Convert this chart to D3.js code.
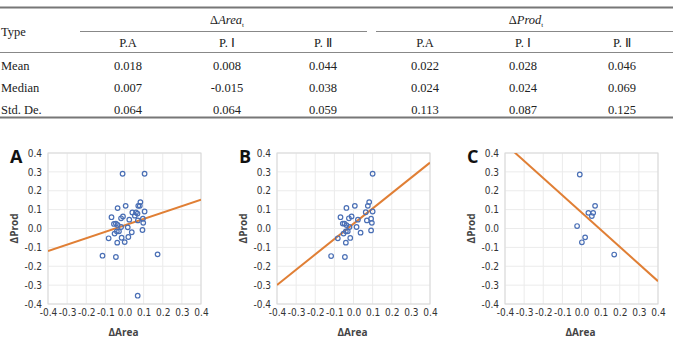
<!DOCTYPE html>
<html>
<head>
<meta charset="utf-8">
<script src="https://cdn.jsdelivr.net/npm/d3@7"></script>
<style>
  body { margin: 0; background: #fff; }
  svg { display: block; }
</style>
</head>
<body>
<script>
'use strict';

// table data
const rowLabels = ['Mean', 'Median', 'Std. De.'];
const subHeaders = ['P.A', 'P. Ⅰ', 'P. Ⅱ'];
const areaValues = [['0.018', '0.008', '0.044'], ['0.007', '-0.015', '0.038'], ['0.064', '0.064', '0.059']];
const prodValues = [['0.022', '0.028', '0.046'], ['0.024', '0.024', '0.069'], ['0.113', '0.087', '0.125']];

// scatter data: [dArea, dProd]
const pointsA = [[-0.01, 0.29], [0.105, 0.29], [0.083, 0.14], [0.072, 0.12], [0.08, 0.12], [0.006, 0.12],
  [-0.036, 0.108], [0.041, 0.085], [0.06, 0.085], [0.068, 0.079], [0.105, 0.09], [-0.068, 0.06],
  [-0.018, 0.054], [-0.008, 0.064], [0.054, 0.068], [0.025, 0.047], [0.096, 0.052], [0.098, 0.03],
  [0.07, 0.043], [-0.055, 0.024], [-0.045, 0.026], [-0.036, 0.019], [-0.018, 0.008], [-0.029, -0.015],
  [-0.04, -0.015], [-0.052, -0.027], [0.017, 0.006], [0.038, -0.02], [0.094, -0.008], [-0.083, -0.052],
  [-0.015, -0.049], [0.02, -0.045], [-0.038, -0.075], [0.001, -0.072], [-0.115, -0.144], [-0.045, -0.151],
  [0.173, -0.137], [0.069, -0.356]];
const pointsB = [[0.10, 0.29], [0.082, 0.14], [0.075, 0.12], [0.007, 0.12], [-0.037, 0.109], [-0.01, 0.064],
  [-0.024, 0.054], [-0.068, 0.06], [0.064, 0.086], [0.10, 0.09], [0.092, 0.052], [0.096, 0.03],
  [0.07, 0.043], [0.023, 0.047], [-0.056, 0.026], [-0.047, 0.026], [-0.037, 0.018], [-0.021, 0.008],
  [-0.03, -0.015], [-0.04, -0.015], [-0.052, -0.027], [0.016, 0.008], [0.037, -0.022], [0.092, -0.01],
  [-0.082, -0.052], [-0.017, -0.05], [-0.04, -0.075], [-0.117, -0.146], [-0.045, -0.151]];
const pointsC = [[-0.009, 0.286], [0.071, 0.12], [0.036, 0.083], [0.061, 0.083], [0.054, 0.066],
  [-0.023, 0.013], [0.019, -0.047], [0.002, -0.073], [0.171, -0.138]];

const panelLabels = ['A', 'B', 'C'];
const fitSlopes = [0.34, 0.81, -0.91];
const fitIntercepts = [0.017, 0.025, 0.085];
const axisTicks = [-0.4, -0.3, -0.2, -0.1, 0.0, 0.1, 0.2, 0.3, 0.4];

const width = 673, height = 342;
const svg = d3.select('body').append('svg')
  .attr('width', width)
  .attr('height', height);

svg.append('rect').attr('width', width).attr('height', height).attr('fill', '#fff');

// ---- table ----
const serif = '"Liberation Serif", "Times New Roman", serif';
const colX = [128, 227, 323, 425, 523, 622];

const tbl = svg.append('g')
  .attr('font-family', serif)
  .attr('font-size', 12.5)
  .attr('fill', '#222');

tbl.append('line').attr('x1', 0).attr('x2', width).attr('y1', 7.5).attr('y2', 7.5)
  .attr('stroke', '#777').attr('stroke-width', 2);
tbl.append('line').attr('x1', 80).attr('x2', 367).attr('y1', 31.5).attr('y2', 31.5)
  .attr('stroke', '#888').attr('stroke-width', 1);
tbl.append('line').attr('x1', 376).attr('x2', width).attr('y1', 31.5).attr('y2', 31.5)
  .attr('stroke', '#888').attr('stroke-width', 1);
tbl.append('line').attr('x1', 0).attr('x2', width).attr('y1', 52.5).attr('y2', 52.5)
  .attr('stroke', '#888').attr('stroke-width', 1);
tbl.append('line').attr('x1', 0).attr('x2', width).attr('y1', 117.5).attr('y2', 117.5)
  .attr('stroke', '#777').attr('stroke-width', 2);

tbl.append('text').attr('x', 1).attr('y', 36).text('Type');

function groupHeader(cx, name) {
  const t = tbl.append('text').attr('x', cx).attr('y', 24).attr('text-anchor', 'middle');
  t.append('tspan').text('Δ');
  t.append('tspan').attr('font-style', 'italic').text(name);
  t.append('tspan').attr('font-size', 7).attr('dy', 3).text('t');
}
groupHeader(227, 'Area');
groupHeader(526, 'Prod');

tbl.selectAll('text.sub')
  .data(subHeaders.concat(subHeaders))
  .join('text')
  .attr('class', 'sub')
  .attr('x', (d, i) => colX[i])
  .attr('y', 46.5)
  .attr('text-anchor', 'middle')
  .text(d => d);

rowLabels.forEach((lab, r) => {
  const y = 69.5 + r * 22;
  tbl.append('text').attr('x', 1).attr('y', y).text(lab);
  areaValues[r].concat(prodValues[r]).forEach((v, c) => {
    tbl.append('text').attr('x', colX[c]).attr('y', y).attr('text-anchor', 'middle').text(v);
  });
});

// ---- scatter panels ----
const panels = [
  {left: 48, data: pointsA},
  {left: 277, data: pointsB},
  {left: 505, data: pointsC}
];
const plotTop = 153, plotH = 151, plotW = 153;
const tickFont = '"Liberation Sans Narrow", "DejaVu Sans Condensed", "Liberation Sans", sans-serif';
const fmt = d => d.toFixed(1);

panels.forEach((p, i) => {
  const x = d3.scaleLinear().domain([-0.4, 0.4]).range([p.left, p.left + plotW]);
  const y = d3.scaleLinear().domain([-0.4, 0.4]).range([plotTop + plotH, plotTop]);
  const g = svg.append('g');

  g.append('clipPath').attr('id', 'clip' + i)
    .append('rect').attr('x', p.left).attr('y', plotTop).attr('width', plotW).attr('height', plotH);

  // grid
  g.selectAll('line.gx').data(axisTicks).join('line')
    .attr('x1', d => x(d)).attr('x2', d => x(d))
    .attr('y1', plotTop).attr('y2', plotTop + plotH)
    .attr('stroke', '#ebebeb').attr('stroke-width', 1);
  g.selectAll('line.gy').data(axisTicks).join('line')
    .attr('y1', d => y(d)).attr('y2', d => y(d))
    .attr('x1', p.left).attr('x2', p.left + plotW)
    .attr('stroke', '#ebebeb').attr('stroke-width', 1);
  g.append('rect').attr('x', p.left).attr('y', plotTop).attr('width', plotW).attr('height', plotH)
    .attr('fill', 'none').attr('stroke', '#d9d9d9').attr('stroke-width', 1);

  // axes (labels only)
  const xa = g.append('g').attr('transform', `translate(0,${plotTop + plotH + 2})`)
    .call(d3.axisBottom(x).tickValues(axisTicks).tickFormat(fmt).tickSize(0));
  const ya = g.append('g').attr('transform', `translate(${p.left - 3},0)`)
    .call(d3.axisLeft(y).tickValues(axisTicks).tickFormat(fmt).tickSize(0));
  [xa, ya].forEach(a => {
    a.select('.domain').remove();
    a.selectAll('text').attr('font-family', tickFont).attr('font-size', 10).attr('fill', '#333');
  });

  // regression line
  g.append('line')
    .attr('clip-path', `url(#clip${i})`)
    .attr('x1', x(-0.4)).attr('y1', y(fitIntercepts[i] + fitSlopes[i] * -0.4))
    .attr('x2', x(0.4)).attr('y2', y(fitIntercepts[i] + fitSlopes[i] * 0.4))
    .attr('stroke', '#e07f35').attr('stroke-width', 2);

  // points
  g.selectAll('circle').data(p.data).join('circle')
    .attr('cx', d => x(d[0])).attr('cy', d => y(d[1])).attr('r', 2.3)
    .attr('fill', 'none').attr('stroke', '#4a6fb5').attr('stroke-width', 1.2);

  // titles
  g.append('text').attr('x', p.left + plotW / 2 - 1).attr('y', 336)
    .attr('text-anchor', 'middle')
    .attr('font-family', '"Open Sans", sans-serif').attr('font-weight', 'bold')
    .attr('font-size', 10).attr('fill', '#444').text('ΔArea');
  g.append('text')
    .attr('transform', `translate(${p.left - 30},${plotTop + plotH / 2}) rotate(-90)`)
    .attr('text-anchor', 'middle')
    .attr('font-family', '"Open Sans", sans-serif').attr('font-weight', 'bold')
    .attr('font-size', 10).attr('fill', '#444').text('ΔProd');
  g.append('text').attr('x', p.left - 38).attr('y', 163)
    .attr('font-family', '"Open Sans", sans-serif').attr('font-weight', 'bold')
    .attr('font-size', 18).attr('fill', '#111').text(panelLabels[i]);
});
</script>
</body>
</html>
